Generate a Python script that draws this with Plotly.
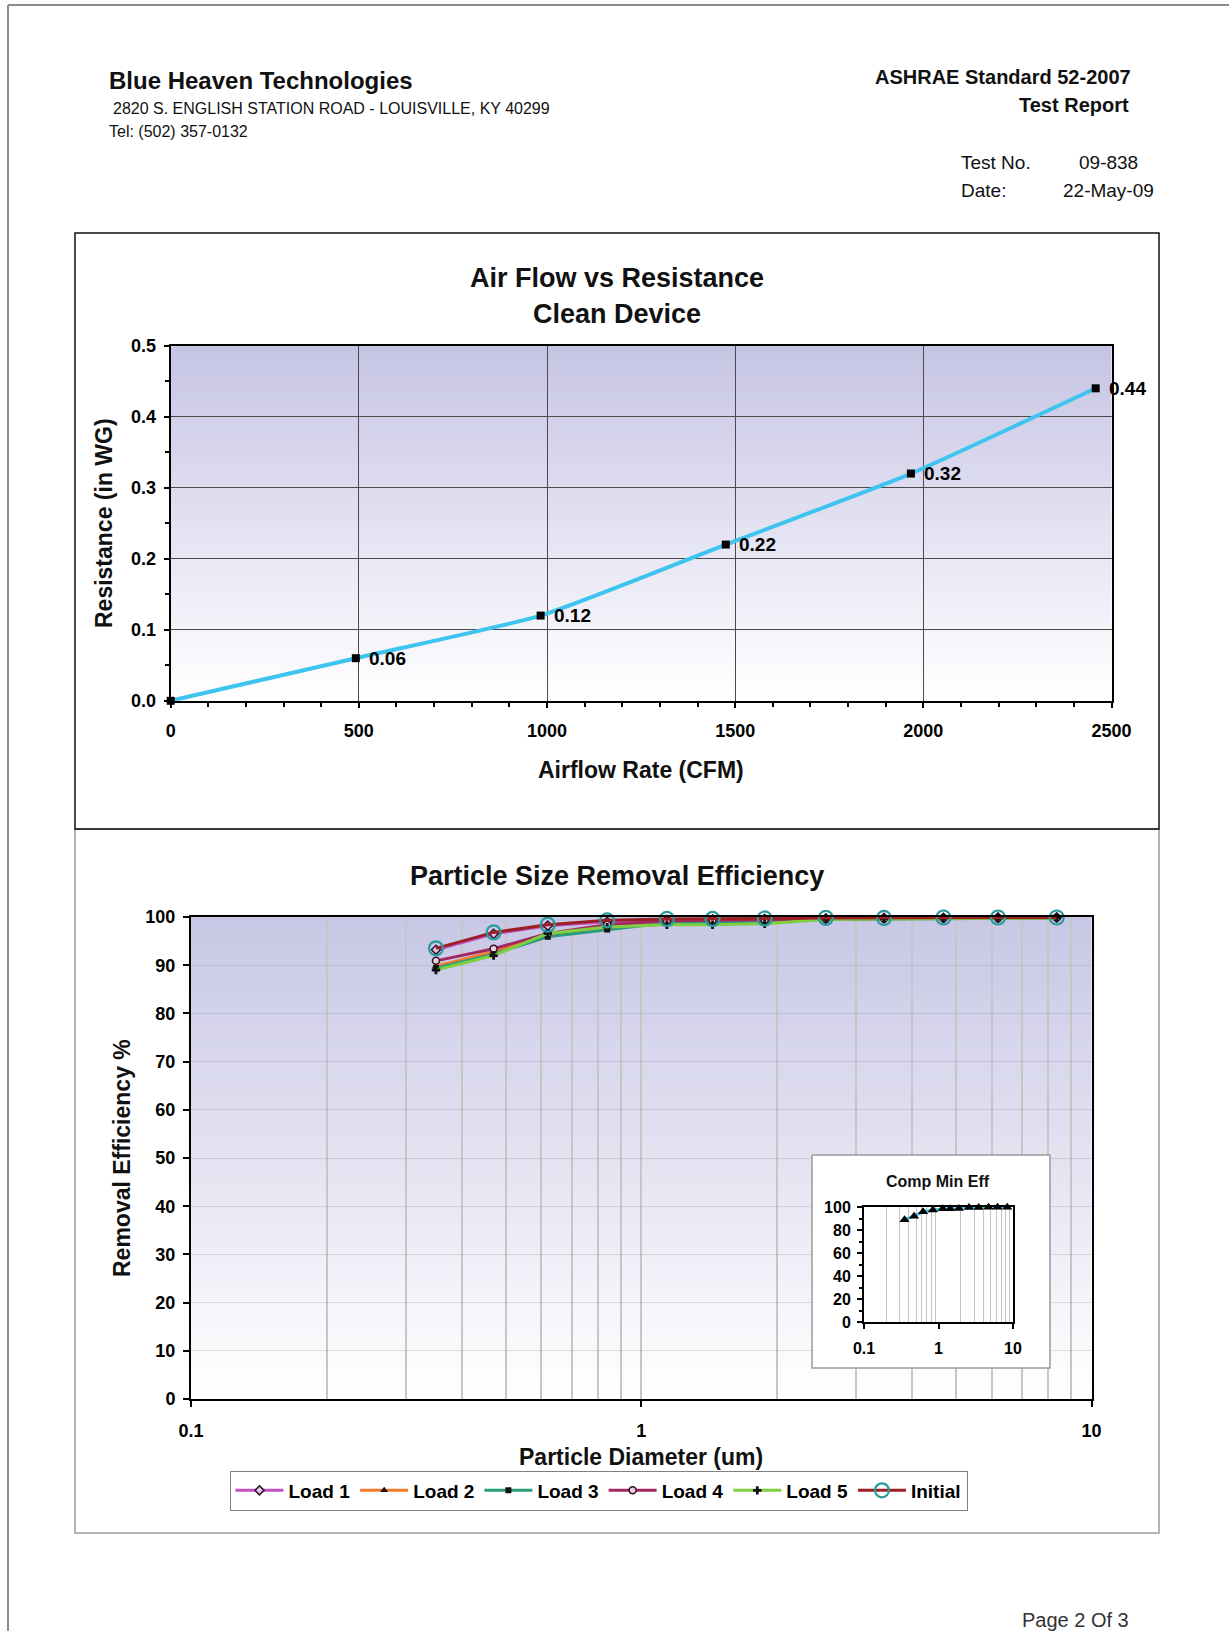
import plotly.graph_objects as go

W, H = 1229, 1631
FONT = "Liberation Sans, Arial, sans-serif"

# ---- Air flow vs resistance, clean device ----
airflow_cfm = [0, 492, 983, 1475, 1967, 2458]
resistance_inwg = [0.00, 0.06, 0.12, 0.22, 0.32, 0.44]
airflow_ticks = [0, 500, 1000, 1500, 2000, 2500]

# ---- Particle size removal efficiency (%) ----
particle_um = [0.35, 0.47, 0.62, 0.84, 1.14, 1.44, 1.88, 2.57, 3.46, 4.69, 6.20, 8.37]
eff_load1 = [93.2, 96.5, 98.2, 99.0, 99.4, 99.5, 99.6, 99.7, 99.8, 99.8, 99.9, 99.9]
eff_load2 = [89.8, 92.8, 96.2, 97.8, 99.0, 99.1, 99.3, 99.6, 99.7, 99.7, 99.8, 99.8]
eff_load3 = [89.4, 92.3, 95.9, 97.4, 98.8, 98.9, 99.2, 99.5, 99.6, 99.7, 99.7, 99.8]
eff_load4 = [90.9, 93.4, 96.6, 98.4, 99.2, 99.3, 99.4, 99.6, 99.7, 99.8, 99.8, 99.9]
eff_load5 = [89.0, 92.0, 96.6, 97.9, 98.4, 98.4, 98.6, 99.5, 99.6, 99.7, 99.7, 99.8]
eff_initial = [93.5, 96.8, 98.4, 99.3, 99.6, 99.6, 99.7, 99.8, 99.8, 99.9, 99.9, 99.9]
comp_min_eff = [89.0, 92.0, 95.9, 97.4, 98.4, 98.4, 98.6, 99.5, 99.6, 99.7, 99.7, 99.8]

log_ticks = [0.1, 1, 10]
log_tick_labels = ["0.1", "1", "10"]
log_minor = [0.2, 0.3, 0.4, 0.5, 0.6, 0.7, 0.8, 0.9, 2, 3, 4, 5, 6, 7, 8, 9]


def px(x):
    return x / W


def py(y):
    return 1 - y / H


fig = go.Figure()

# Clean-device resistance curve with labelled points
fig.add_trace(go.Scatter(
    x=airflow_cfm, y=resistance_inwg, mode="lines",
    line=dict(color="#3ec4ef", width=4, shape="spline", smoothing=0.5),
    xaxis="x", yaxis="y", showlegend=False, hoverinfo="skip"))
fig.add_trace(go.Scatter(
    x=airflow_cfm, y=resistance_inwg, mode="markers",
    marker=dict(symbol="square", size=8, color="black"),
    cliponaxis=False, xaxis="x", yaxis="y", showlegend=False, hoverinfo="skip"))

# Efficiency curves
series = [
    ("Load 1", eff_load1, "#c54dc5", dict(symbol="diamond", size=7, color="#e6c8e6", line=dict(color="#301030", width=1.5))),
    ("Load 2", eff_load2, "#f47a2c", dict(symbol="triangle-up", size=7, color="#111")),
    ("Load 3", eff_load3, "#2a9c7c", dict(symbol="square", size=6, color="#111")),
    ("Load 4", eff_load4, "#a3285f", dict(symbol="circle", size=7, color="#e6d0dc", line=dict(color="#301020", width=1.5))),
    ("Load 5", eff_load5, "#7fd040", dict(symbol="cross", size=7, color="#111")),
    ("Initial", eff_initial, "#9c1f24", dict(symbol="circle-open", size=14, color="#2b9a9c", line=dict(width=2.2))),
]
for name, vals, col, mk in series:
    fig.add_trace(go.Scatter(
        x=particle_um, y=vals, name=name, mode="lines+markers",
        line=dict(color=col, width=3), marker=mk,
        xaxis="x2", yaxis="y2", cliponaxis=False, hoverinfo="skip"))

# White panel behind the inset chart
bx0, bx1, by0, by1 = 812, 1050, 1155, 1368
fig.add_trace(go.Scatter(
    x=[bx0, bx1, bx1, bx0, bx0], y=[by0, by0, by1, by1, by0],
    mode="lines", fill="toself", fillcolor="white",
    line=dict(color="#9a9a9a", width=1.5),
    xaxis="x3", yaxis="y3", showlegend=False, hoverinfo="skip"))

# Inset: composite minimum efficiency
fig.add_trace(go.Scatter(
    x=particle_um, y=comp_min_eff, mode="lines+markers",
    line=dict(color="#3ec4ef", width=3),
    marker=dict(symbol="triangle-up", size=9, color="black"),
    xaxis="x4", yaxis="y4", showlegend=False, cliponaxis=False, hoverinfo="skip"))

# Gradient plot backgrounds (lavender fading to white)
shapes = []


def gradient(x0, x1, y0, y1, top=(198, 196, 228), n=70):
    h = (y1 - y0) / n
    for i in range(n):
        t = i / (n - 1)
        c = tuple(round(top[k] + (255 - top[k]) * t) for k in range(3))
        shapes.append(dict(
            type="rect", xref="paper", yref="paper", layer="below",
            x0=px(x0), x1=px(x1), y0=py(y0 + i * h), y1=py(y0 + (i + 1) * h + 0.6),
            fillcolor=f"rgb{c}", line=dict(width=0)))


gradient(170.7, 1111.5, 345.7, 700.8)
gradient(191, 1091.5, 917, 1399, top=(200, 199, 229))

# Page frame and chart boxes
shapes += [
    dict(type="line", xref="paper", yref="paper", x0=px(8), x1=1, y0=py(5), y1=py(5),
         line=dict(color="#8c8c8c", width=2)),
    dict(type="line", xref="paper", yref="paper", x0=px(8), x1=px(8), y0=py(5), y1=0,
         line=dict(color="#8c8c8c", width=2)),
    dict(type="rect", xref="paper", yref="paper", x0=px(75), x1=px(1159), y0=py(829), y1=py(1533),
         line=dict(color="#9a9a9a", width=1.5)),
    dict(type="rect", xref="paper", yref="paper", x0=px(75), x1=px(1159), y0=py(233), y1=py(829),
         line=dict(color="#111", width=1.5)),
]


def note(text, x, y, size, bold=False, xanchor="left", angle=0, color="#111"):
    return dict(text=text, x=px(x), y=py(y), xref="paper", yref="paper",
                xanchor=xanchor, yanchor="middle", showarrow=False, textangle=angle,
                font=dict(family=FONT, size=size, color=color, weight="bold" if bold else "normal"))


annotations = [
    note("Blue Heaven Technologies", 107, 80, 24, True),
    note("2820 S. ENGLISH STATION ROAD - LOUISVILLE, KY 40299", 111, 108, 16),
    note("Tel: (502) 357-0132", 107, 131, 16),
    note("ASHRAE Standard 52-2007", 1133, 77, 20, True, "right"),
    note("Test Report", 1131, 105, 20, True, "right"),
    note("Test No.", 959, 163, 19),
    note("09-838", 1140, 163, 19, xanchor="right"),
    note("Date:", 959, 191, 19),
    note("22-May-09", 1156, 191, 19, xanchor="right"),
    note("Air Flow vs Resistance", 617, 278, 27, True, "center"),
    note("Clean Device", 617, 314, 27, True, "center"),
    note("Airflow Rate (CFM)", 641, 770, 23, True, "center"),
    note("Resistance (in WG)", 104, 523, 23, True, "center", -90),
    note("Particle Size Removal Efficiency", 617, 876, 27, True, "center"),
    note("Particle Diameter (um)", 641, 1457, 23, True, "center"),
    note("Removal Efficiency %", 122, 1158, 23, True, "center", -90),
    note("Comp Min Eff", 938, 1181, 16, True, "center"),
    note("Page 2 Of 3", 1131, 1620, 20, xanchor="right", color="#333"),
]

# Value labels beside each resistance point
for xv, yv in zip(airflow_cfm, resistance_inwg):
    if yv > 0:
        annotations.append(dict(
            text=f"{yv:.2f}", x=xv, y=yv, xref="x", yref="y", xanchor="left", yanchor="middle",
            xshift=11, showarrow=False,
            font=dict(family=FONT, size=19, color="black", weight="bold")))

tickfont = dict(family=FONT, size=18, color="black", weight="bold")
frame = dict(showline=True, linecolor="black", linewidth=2, mirror=True, zeroline=False,
             ticks="outside", tickcolor="black", tickwidth=1.5, automargin=False)

fig.update_layout(
    width=W, height=H, margin=dict(l=0, r=0, t=0, b=0, pad=0, autoexpand=False),
    paper_bgcolor="white", plot_bgcolor="rgba(0,0,0,0)",
    font=dict(family=FONT, color="black"),
    shapes=shapes, annotations=annotations,
    showlegend=True,
    legend=dict(orientation="h", x=px(598.5), xanchor="center", y=py(1490.5), yanchor="middle",
                bgcolor="white", bordercolor="#808080", borderwidth=1, itemwidth=48,
                font=dict(family=FONT, size=19, color="black", weight="bold")),
    xaxis=dict(domain=[px(170.7), px(1111.5)], range=[0, 2500], tickvals=airflow_ticks,
               anchor="y", showgrid=True, gridcolor="#4a4a4a", gridwidth=1, ticklen=5,
               ticklabelstandoff=8, tickfont=tickfont,
               minor=dict(dtick=100, ticks="outside", ticklen=4, tickcolor="black", showgrid=False),
               **frame),
    yaxis=dict(domain=[py(700.8), py(345.7)], range=[0, 0.5], dtick=0.1, tickformat=".1f",
               anchor="x", showgrid=True, gridcolor="#4a4a4a", gridwidth=1, ticklen=5,
               ticklabelstandoff=4, tickfont=tickfont,
               minor=dict(dtick=0.05, ticks="outside", ticklen=4, tickcolor="black", showgrid=False),
               **frame),
    xaxis2=dict(domain=[px(191), px(1091.5)], type="log", range=[-1, 1], tickvals=log_ticks,
                ticktext=log_tick_labels, anchor="y2", showgrid=True, gridcolor="#c6c6c6",
                gridwidth=2, ticklen=6, ticklabelstandoff=8, tickfont=tickfont,
                minor=dict(tickvals=log_minor, showgrid=True, gridcolor="#c6c6c6", gridwidth=2, ticks=""),
                **frame),
    yaxis2=dict(domain=[py(1399), py(917)], range=[0, 100], dtick=10, anchor="x2",
                showgrid=True, gridcolor="rgba(150,150,165,0.3)", gridwidth=1, ticklen=6,
                ticklabelstandoff=4, tickfont=tickfont, **frame),
    xaxis3=dict(domain=[px(bx0 - 3), px(bx1 + 3)], range=[bx0 - 3, bx1 + 3], visible=False,
                anchor="y3", fixedrange=True),
    yaxis3=dict(domain=[py(by1 + 3), py(by0 - 3)], range=[by1 + 3, by0 - 3], visible=False,
                anchor="x3", fixedrange=True),
    xaxis4=dict(domain=[px(864), px(1013)], type="log", range=[-1, 1], tickvals=log_ticks,
                ticktext=log_tick_labels, anchor="y4", showgrid=False, ticklen=5,
                ticklabelstandoff=6, tickfont=dict(family=FONT, size=16, color="black", weight="bold"),
                minor=dict(tickvals=log_minor, showgrid=True, gridcolor="#c4c4c4", gridwidth=1, ticks=""),
                **frame),
    yaxis4=dict(domain=[py(1322), py(1207)], range=[0, 100], dtick=20, anchor="x4",
                showgrid=False, ticklen=5, ticklabelstandoff=3,
                tickfont=dict(family=FONT, size=16, color="black", weight="bold"),
                minor=dict(dtick=10, ticks="outside", ticklen=3, tickcolor="black", showgrid=False),
                **frame),
)

fig.write_html(
    "out.html",
    post_script="document.body.style.margin='0';document.body.style.overflow='hidden';",
)
